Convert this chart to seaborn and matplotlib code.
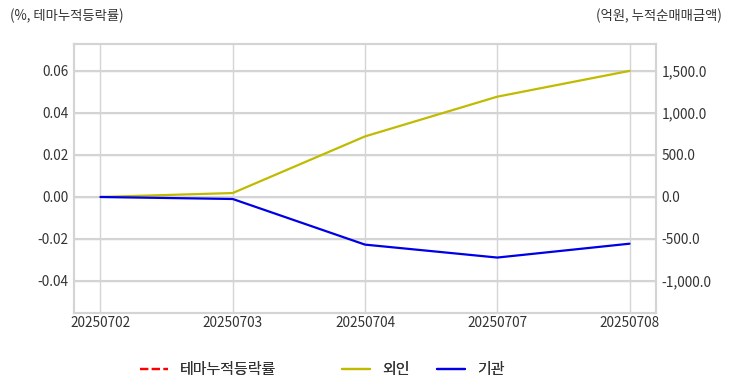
import numpy as np
import pandas as pd
import matplotlib
matplotlib.use('Agg')
import matplotlib.pyplot as plt
import seaborn as sns
from matplotlib.ticker import FuncFormatter
from matplotlib.lines import Line2D

dates = ['20250702', '20250703', '20250704', '20250707', '20250708']
theme_ret = [np.nan, np.nan, np.nan, np.nan, np.nan]   # 테마누적등락률 (값 없음)
foreign = [0.0, 47.0, 721.0, 1194.0, 1501.0]            # 외인 누적순매매 (억원)
inst = [0.0, -24.0, -567.0, -721.0, -556.0]             # 기관 누적순매매 (억원)
legend_labels = ['테마누적등락률', '외인', '기관']

sns.set_theme(style='whitegrid')
plt.rcParams['font.family'] = ['Noto Sans CJK KR', 'DejaVu Sans']
plt.rcParams['axes.unicode_minus'] = False

df = pd.DataFrame({'date': dates, 'theme': theme_ret, 'foreign': foreign, 'inst': inst})
df['x'] = range(len(df))

fig = plt.figure(figsize=(7.32, 3.92), dpi=100)
ax = fig.add_axes([74 / 732, 1 - 313 / 392, (656 - 74) / 732, (313 - 44) / 392])
ax2 = ax.twinx()

grid_c = '#d4d4d4'
colors = ['red', '#c0bb00', '#0000e6']
sns.lineplot(data=df, x='x', y='theme', ax=ax, color=colors[0], linestyle='--', lw=1.5)
sns.lineplot(data=df, x='x', y='foreign', ax=ax2, color=colors[1], lw=1.6)
sns.lineplot(data=df, x='x', y='inst', ax=ax2, color=colors[2], lw=1.6)

ax.set_xlim(-0.2, 4.2)
ax.set_xticks(df['x'])
ax.set_xticklabels(dates)
ax2.set_ylim(-1381, 1821)
ax.set_ylim(-1381 / 25000, 1821 / 25000)
ax.set_yticks([-0.04, -0.02, 0.0, 0.02, 0.04, 0.06])
ax2.set_yticks([-1000, -500, 0, 500, 1000, 1500])
ax.yaxis.set_major_formatter(FuncFormatter(lambda v, p: f'{v:.2f}'))
ax2.yaxis.set_major_formatter(FuncFormatter(lambda v, p: f'{v:,.1f}'))

for a in (ax, ax2):
    a.set_xlabel('')
    a.set_ylabel('')
    a.tick_params(length=0, labelsize=9.8, colors='#333333', pad=4)
    for s in a.spines.values():
        s.set_color(grid_c)
        s.set_linewidth(1.5)
ax.tick_params(axis='x', pad=2)
ax.grid(True, color=grid_c, lw=1.0)
ax2.grid(True, axis='y', color=grid_c, lw=1.5)
ax2.grid(False, axis='x')
ax.set_axisbelow(True)
ax2.set_zorder(ax.get_zorder() + 1)
ax2.patch.set_visible(False)

fig.text(10 / 732, 1 - 16 / 392, '(%, 테마누적등락률)', fontsize=9.6, color='#333333', va='center')
fig.text(722 / 732, 1 - 16 / 392, '(억원, 누적순매매금액)', fontsize=9.6, color='#333333', va='center', ha='right')

# 범례: 항목마다 위치 지정
styles = ['--', '-', '-']
leg_x = [140, 342, 437]
for lab, c, ls, lx in zip(legend_labels, colors, styles, leg_x):
    h = Line2D([], [], color=c, linestyle=ls, lw=1.6)
    leg = fig.legend([h], [lab], loc='center left',
                     bbox_to_anchor=(lx / 732, 1 - 370 / 392), frameon=False,
                     fontsize=10.8, handlelength=1.85, handletextpad=0.8,
                     labelcolor='#333333', borderpad=0, borderaxespad=0)
    fig.add_artist(leg)

fig.savefig('out.png', dpi=100)
